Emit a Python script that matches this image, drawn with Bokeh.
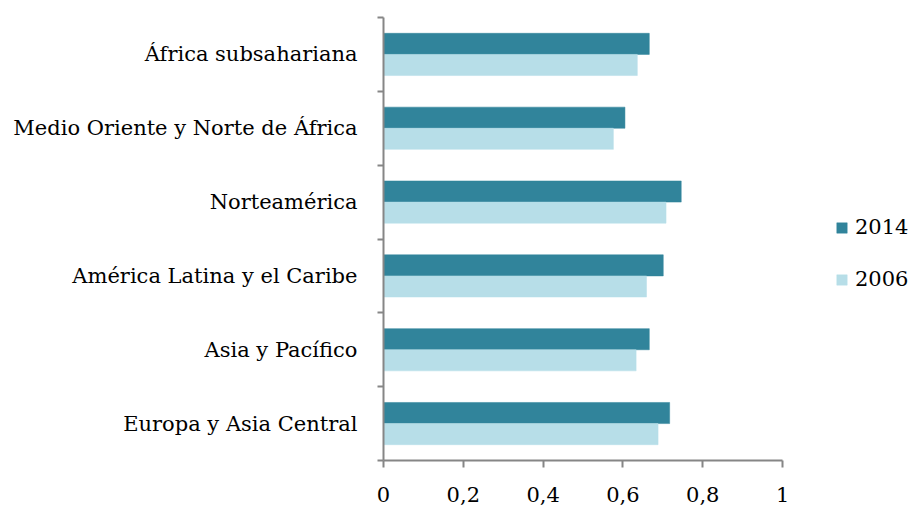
from bokeh.plotting import figure
from bokeh.models import FixedTicker, Legend, LegendItem
from bokeh.embed import file_html
from bokeh.resources import INLINE

# Regions listed bottom to top
regions = [
    "Europa y Asia Central",
    "Asia y Pacífico",
    "América Latina y el Caribe",
    "Norteamérica",
    "Medio Oriente y Norte de África",
    "África subsahariana",
]
values_2014 = [0.717, 0.666, 0.701, 0.746, 0.605, 0.666]
values_2006 = [0.688, 0.633, 0.659, 0.708, 0.576, 0.636]
x_ticks = [0, 0.2, 0.4, 0.6, 0.8, 1]
x_tick_labels = ["0", "0,2", "0,4", "0,6", "0,8", "1"]

DARK = "#31849B"
LIGHT = "#B7DEE8"
AXIS = "#868686"
FONT = "DejaVu Serif"
FONT_SIZE = "21px"

n = len(regions)
centers = [i + 0.5 for i in range(n)]
bar_h = 0.286

# The frame runs to the right edge so the legend has room; the axis line
# itself stops at 1.
p = figure(
    width=909, height=505,
    x_range=(0, 1.318), y_range=(0, n),
    output_backend="svg", toolbar_location=None,
    min_border_left=383, min_border_right=0,
    min_border_top=17, min_border_bottom=45,
)
p.outline_line_color = None
p.xgrid.visible = False
p.ygrid.visible = False

r14 = p.hbar(y=[c + bar_h / 2 for c in centers], right=values_2014, left=0,
             height=bar_h, fill_color=DARK, line_color=DARK, line_width=0.5)
r06 = p.hbar(y=[c - bar_h / 2 for c in centers], right=values_2006, left=0,
             height=bar_h, fill_color=LIGHT, line_color=LIGHT, line_width=0.5)

# x axis
xa = p.xaxis[0]
xa.bounds = (0, 1)
xa.ticker = FixedTicker(ticks=x_ticks, minor_ticks=[])
xa.major_label_overrides = {t: s for t, s in zip(x_ticks, x_tick_labels)}
xa.axis_line_color = AXIS
xa.axis_line_width = 2
xa.major_tick_line_color = AXIS
xa.major_tick_line_width = 2
xa.major_tick_in = 0
xa.major_tick_out = 7
xa.major_label_standoff = 19
xa.major_label_text_font = FONT
xa.major_label_text_font_size = FONT_SIZE
xa.major_label_text_color = "black"

# y axis: labels at band centres, ticks at band boundaries
ya = p.yaxis[0]
ya.ticker = FixedTicker(ticks=centers, minor_ticks=list(range(n + 1)))
ya.major_label_overrides = {c: r for c, r in zip(centers, regions)}
ya.axis_line_color = AXIS
ya.axis_line_width = 2
ya.major_tick_line_color = None
ya.major_tick_in = 0
ya.major_tick_out = 0
ya.minor_tick_line_color = AXIS
ya.minor_tick_line_width = 2
ya.minor_tick_in = 0
ya.minor_tick_out = 6
ya.major_label_standoff = 20
ya.major_label_text_font = FONT
ya.major_label_text_font_size = FONT_SIZE
ya.major_label_text_color = "black"

legend = Legend(
    items=[LegendItem(label="2014", renderers=[r14]),
           LegendItem(label="2006", renderers=[r06])],
    location=(452, 169),
    orientation="vertical",
    glyph_width=13, glyph_height=13,
    label_standoff=7, label_height=20,
    spacing=28, padding=0, margin=0,
    border_line_color=None, background_fill_alpha=0,
    label_text_font=FONT, label_text_font_size=FONT_SIZE,
    label_text_color="black",
)
p.add_layout(legend, "center")

open("out.html", "w").write(file_html(p, INLINE))
